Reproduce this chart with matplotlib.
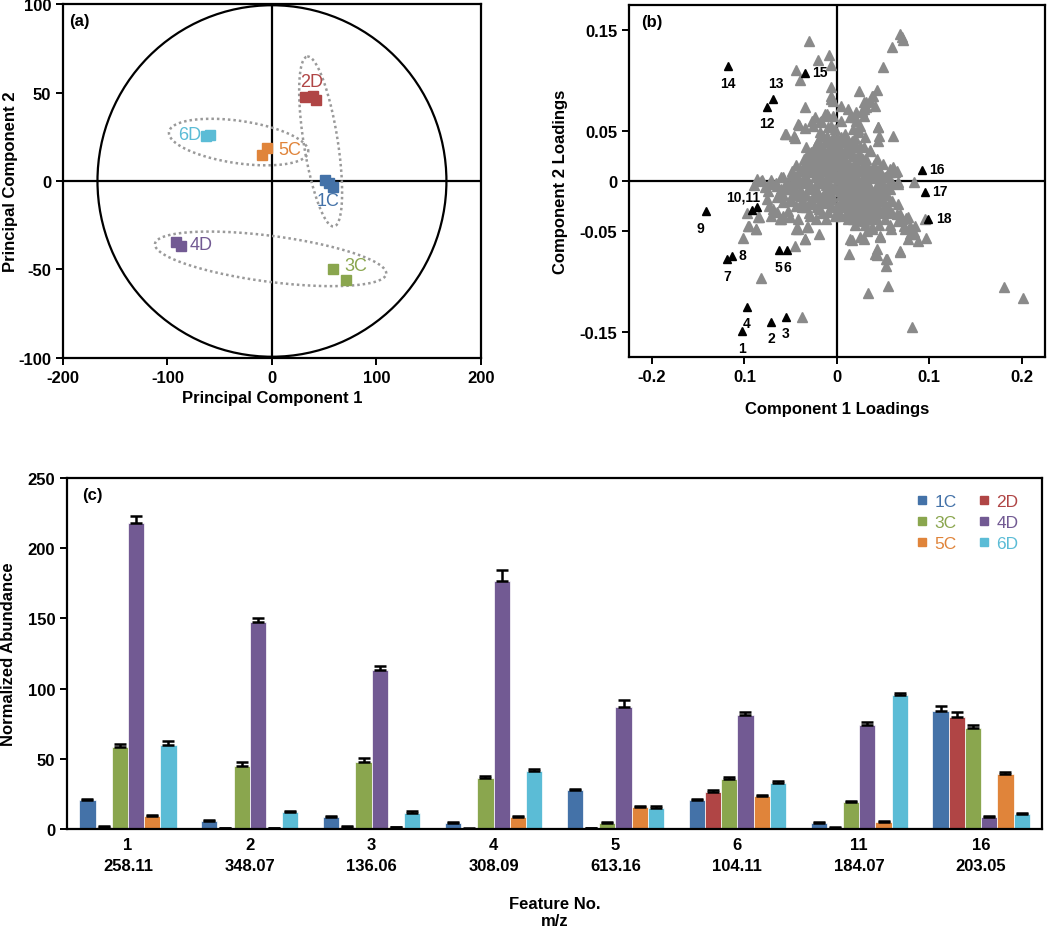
import numpy as np
import matplotlib
matplotlib.use("Agg")
import matplotlib.pyplot as plt
from matplotlib.patches import Ellipse
from matplotlib.lines import Line2D

plt.rcParams['font.family'] = ['Liberation Sans', 'DejaVu Sans']
plt.rcParams['font.weight'] = 'bold'
plt.rcParams['axes.unicode_minus'] = False

# ---------------- data ----------------
groups = ['1C', '2D', '3C', '4D', '5C', '6D']
colors = {'1C': '#4472A8', '2D': '#B04545', '3C': '#8AA64E',
          '4D': '#725A93', '5C': '#E0843A', '6D': '#5BBCD6'}

# (a) PCA scores
pca_x = {'1C': [51, 55, 58], '2D': [32, 39, 42], '3C': [58, 70.5],
         '4D': [-91.5, -87.5], '5C': [-5, -9.5], '6D': [-63.5, -59]}
pca_y = {'1C': [0.3, -1.3, -3.2], '2D': [47.5, 48, 46], '3C': [-50, -56],
         '4D': [-34.3, -36.5], '5C': [18.5, 14.5], '6D': [25.2, 26.2]}
label_x = {'1C': 54, '2D': 38, '3C': 80, '4D': -68, '5C': 17, '6D': -79}
label_y = {'1C': -11, '2D': 56, '3C': -47.5, '4D': -36, '5C': 18, '6D': 26}

# (b) loadings: labelled features (black)
feat_num = ['1', '2', '3', '4', '5', '6', '7', '8', '9', '10,11', '', '12', '13', '14', '15', '16', '17', '18']
feat_x = [-0.103, -0.071, -0.055, -0.0975, -0.063, -0.054, -0.119, -0.113, -0.142,
          -0.092, -0.0867, -0.076, -0.069, -0.118, -0.035, 0.092, 0.095, 0.099]
feat_y = [-0.149, -0.140, -0.135, -0.125, -0.069, -0.069, -0.078, -0.075, -0.030,
          -0.029, -0.026, 0.074, 0.082, 0.114, 0.107, 0.011, -0.011, -0.038]

# (b) loadings: other features (gray)
other_xy = [
    (-0.030, 0.139), (-0.009, 0.125), (-0.020, 0.120), (-0.006, 0.115), (-0.044, 0.110),
    (-0.040, 0.100), (-0.0065, 0.093), (-0.0065, 0.084), (-0.004, 0.080), (-0.035, 0.074),
    (-0.056, 0.047), (-0.046, 0.045), (-0.011, 0.067), (-0.017, 0.060), (-0.026, 0.055),
    (-0.042, 0.057), (0.068, 0.146), (0.071, 0.143), (0.072, 0.140), (0.060, 0.133),
    (0.050, 0.113), (0.024, 0.089), (0.043, 0.090), (0.038, 0.084), (0.032, 0.079),
    (0.029, 0.072), (0.045, 0.054), (0.061, 0.045), (0.046, 0.045), (0.005, 0.075),
    (0.012, 0.072), (0.020, 0.064), (0.023, 0.052),
    (-0.082, 0.0), (-0.073, -0.003), (-0.076, -0.018), (-0.097, -0.032), (-0.085, -0.036),
    (-0.095, -0.045), (-0.088, -0.048), (-0.102, -0.057), (-0.082, -0.096), (-0.060, -0.038),
    (-0.051, -0.036), (-0.042, -0.048), (-0.035, -0.058), (-0.031, -0.046), (-0.045, -0.065),
    (-0.038, -0.135), (-0.065, -0.031), (-0.073, -0.025),
    (0.013, -0.073), (0.016, -0.059), (0.034, -0.111), (0.055, -0.104), (0.053, -0.085),
    (0.054, -0.078), (0.041, -0.073), (0.047, -0.056), (0.059, -0.048), (0.068, -0.071),
    (0.074, -0.048), (0.077, -0.058), (0.083, -0.053), (0.088, -0.060), (0.096, -0.057),
    (0.095, -0.038), (0.085, -0.045), (0.081, -0.145), (0.181, -0.105), (0.202, -0.116),
    (0.075, -0.037), (0.068, -0.033), (0.066, -0.023), (0.063, 0.009), (0.066, -0.003),
    (0.057, 0.012), (0.029, -0.058), (0.038, -0.048), (0.025, -0.035), (0.005, -0.035),
    (-0.002, -0.035),
    (-0.0805, 0.001), (-0.071, 0.001), (-0.065, -0.005), (-0.074, -0.010), (-0.062, -0.011),
    (-0.055, -0.008), (-0.048, -0.003), (-0.042, 0.002), (-0.039, -0.015), (-0.051, -0.018),
    (-0.058, -0.021), (-0.069, -0.028), (-0.071, -0.035), (-0.062, -0.038), (-0.058, -0.035),
    (-0.053, -0.030), (-0.044, -0.025), (-0.042, -0.038), (-0.033, -0.026), (-0.026, -0.023),
    (-0.029, -0.035), (-0.032, -0.046), (-0.023, -0.038), (-0.019, -0.028), (-0.012, -0.021),
    (-0.010, -0.031), (-0.019, -0.053), (-0.044, -0.048), (-0.035, -0.058), (-0.084, -0.036),
    (-0.096, -0.045), (-0.087, -0.048),
    (-0.040, 0.012), (-0.033, 0.019), (-0.026, 0.025), (-0.019, 0.029), (-0.012, 0.022),
    (-0.005, 0.015), (-0.026, 0.009), (-0.019, 0.002), (-0.012, -0.004), (-0.005, -0.008),
    (-0.033, -0.001), (-0.015, -0.015), (-0.006, -0.018),
    (0.014, -0.058), (0.025, -0.056), (0.047, -0.055), (0.043, -0.068), (0.043, -0.074),
    (0.053, -0.078), (0.068, -0.070), (0.079, -0.053), (0.084, -0.051), (0.073, -0.045),
    (0.079, -0.045), (0.077, -0.036), (0.066, -0.040), (0.033, -0.050), (0.038, -0.046),
    (0.023, -0.039), (0.029, -0.040), (0.036, -0.038), (0.040, -0.035), (0.065, -0.033),
    (0.058, -0.031), (0.010, -0.033), (0.020, -0.033), (0.050, -0.030), (0.045, -0.026),
    (0.083, -0.001), (0.066, -0.001), (0.065, 0.010), (0.057, 0.009), (0.061, 0.014),
    (0.052, 0.004), (0.047, 0.002), (0.050, 0.017), (0.043, 0.022), (0.036, 0.030),
    (0.050, -0.011), (0.036, -0.015), (0.025, -0.022), (0.018, -0.028), (0.032, -0.025),
    (0.029, -0.008), (0.021, -0.001), (0.014, -0.011), (0.007, -0.018), (0.000, -0.025),
    (0.043, -0.004), (0.039, 0.012), (0.029, 0.018), (0.014, 0.015), (0.003, 0.012),
    (0.018, 0.025),
    (0.039, 0.084), (0.036, 0.080), (0.029, 0.079), (0.041, 0.075), (0.032, 0.074),
    (0.027, 0.070), (0.021, 0.069), (0.029, 0.065), (0.014, 0.064), (0.021, 0.060),
    (0.025, 0.055), (0.018, 0.052), (0.023, 0.049), (0.030, 0.044), (0.044, 0.054),
    (0.045, 0.040), (0.009, 0.047), (0.007, 0.039), (0.014, 0.037), (0.021, 0.035),
    (0.029, 0.034), (0.036, 0.031), (0.000, 0.044), (-0.006, 0.055), (-0.004, 0.065),
    (-0.006, 0.082), (0.003, 0.030), (0.010, 0.029),
    (-0.024, 0.064), (-0.027, 0.060), (-0.018, 0.059), (-0.013, 0.067), (-0.010, 0.065),
    (-0.041, 0.056), (-0.034, 0.053), (-0.055, 0.047), (-0.045, 0.043), (-0.010, 0.054),
    (-0.018, 0.049), (-0.011, 0.045), (-0.004, 0.044), (-0.033, 0.034), (-0.028, 0.029),
    (-0.018, 0.035), (-0.011, 0.039), (-0.015, 0.029), (-0.008, 0.030), (-0.002, 0.027),
    (-0.035, 0.005), (-0.030, 0.012), (-0.028, -0.005), (-0.025, 0.018), (-0.022, 0.008),
    (-0.020, -0.012), (-0.018, 0.015), (-0.016, 0.002), (-0.014, 0.022), (-0.012, -0.009),
    (-0.010, 0.010), (-0.009, 0.030), (-0.008, -0.002), (-0.006, 0.020), (-0.005, -0.015),
    (-0.004, 0.006), (-0.003, 0.035), (-0.002, -0.006), (0.000, 0.016), (0.001, 0.002),
    (0.002, 0.025), (0.003, -0.010), (0.004, 0.009), (0.005, -0.020), (0.006, 0.000),
    (0.007, 0.020), (0.008, -0.006), (0.009, 0.012), (0.010, -0.014), (0.011, 0.004),
    (0.012, -0.022), (0.013, 0.008), (0.014, -0.004), (0.015, 0.030), (0.016, -0.016),
    (0.017, 0.002), (0.018, -0.010), (0.019, 0.017), (0.020, -0.020), (0.021, 0.005),
    (0.022, -0.006), (0.023, -0.028), (0.024, 0.010), (0.025, -0.014), (0.026, 0.000),
    (0.027, -0.022), (0.028, 0.022), (0.029, -0.004), (0.030, -0.018), (0.031, 0.007),
    (0.032, -0.010), (0.033, -0.030), (0.034, 0.014), (0.035, -0.021), (0.036, 0.003),
    (0.038, -0.012), (0.040, 0.008), (0.042, -0.020), (0.044, -0.006), (0.046, 0.012),
    (0.048, -0.016), (0.052, -0.024), (0.055, -0.006), (-0.045, -0.010), (-0.040, 0.000),
    (-0.038, -0.020), (-0.050, 0.006), (-0.055, -0.002), (-0.060, 0.004), (-0.065, -0.016),
    (-0.032, 0.026), (-0.022, 0.038), (-0.015, 0.045), (-0.005, 0.040), (0.005, 0.044),
    (0.012, 0.040), (0.020, 0.043), (0.025, 0.035), (-0.026, -0.016), (-0.012, -0.022),
    (0.000, -0.030), (0.008, -0.026), (0.015, -0.030), (0.040, -0.028), (0.060, -0.020),
    (0.058, 0.000), (-0.002, 0.052), (0.004, 0.060), (-0.020, 0.030), (-0.008, 0.012),
    (-0.020, 0.040), (-0.012, 0.040), (-0.001, 0.040), (0.008, 0.040), (0.016, 0.040),
    (-0.024, 0.034), (-0.016, 0.034), (-0.007, 0.034), (0.002, 0.034), (0.011, 0.034), (0.019, 0.034),
    (-0.030, 0.028), (-0.022, 0.028), (-0.012, 0.028), (0.007, 0.028), (0.013, 0.028), (0.024, 0.028),
    (-0.036, 0.022), (-0.027, 0.022), (-0.018, 0.022), (-0.009, 0.022), (0.000, 0.022),
    (0.009, 0.022), (0.023, 0.022), (0.032, 0.022),
    (-0.044, 0.016), (-0.034, 0.016), (-0.024, 0.016), (-0.013, 0.016), (-0.002, 0.016),
    (0.006, 0.016), (0.022, 0.016), (0.031, 0.016), (0.040, 0.016),
    (-0.048, 0.010), (-0.038, 0.010), (-0.030, 0.010), (-0.016, 0.010), (-0.003, 0.010),
    (0.018, 0.010), (0.027, 0.010), (0.035, 0.010), (0.045, 0.010),
    (-0.058, 0.004), (-0.045, 0.004), (-0.033, 0.004), (-0.024, 0.004), (-0.011, 0.004),
    (-0.001, 0.004), (0.016, 0.004), (0.030, 0.004), (0.040, 0.004), (0.050, 0.004),
    (-0.066, -0.002), (-0.052, -0.002), (-0.043, -0.002), (-0.036, -0.002), (-0.022, -0.002),
    (-0.014, -0.002), (0.003, -0.002), (0.010, -0.002), (0.019, -0.002), (0.034, -0.002),
    (0.049, -0.002), (0.060, -0.002),
    (-0.060, -0.008), (-0.050, -0.008), (-0.040, -0.008), (-0.031, -0.008), (-0.023, -0.008),
    (0.001, -0.008), (0.012, -0.008), (0.022, -0.008), (0.036, -0.008), (0.046, -0.008), (0.057, -0.008),
    (-0.058, -0.014), (-0.046, -0.014), (-0.033, -0.014), (-0.022, -0.014), (-0.009, -0.014),
    (0.004, -0.014), (0.020, -0.014), (0.028, -0.014), (0.042, -0.014), (0.054, -0.014),
    (-0.048, -0.020), (-0.038, -0.020), (-0.029, -0.020), (-0.017, -0.020), (0.009, -0.020),
    (0.016, -0.020), (0.026, -0.020), (0.037, -0.020), (0.047, -0.020), (0.058, -0.020),
    (-0.038, -0.026), (-0.022, -0.026), (-0.005, -0.026), (0.005, -0.026), (0.013, -0.026),
    (0.021, -0.026), (0.030, -0.026), (0.038, -0.026), (0.055, -0.026),
    (-0.030, -0.032), (-0.016, -0.032), (0.002, -0.032), (0.016, -0.032), (0.027, -0.032),
    (0.035, -0.032), (0.046, -0.032), (0.060, -0.032),
    (-0.012, -0.038), (0.012, -0.038), (0.018, -0.038), (0.031, -0.038), (0.043, -0.038),
    (0.052, -0.038), (0.070, -0.038),
    (0.020, -0.044), (0.030, -0.044), (0.046, -0.044), (0.058, -0.044),
    (-0.090, -0.004), (-0.078, -0.006), (-0.086, 0.002),
]

# (c) bar chart
feature_no = ['1', '2', '3', '4', '5', '6', '11', '16']
mz = ['258.11', '348.07', '136.06', '308.09', '613.16', '104.11', '184.07', '203.05']
abund = {
    '1C': [20.5, 5.5, 8.5, 4.0, 27.5, 20.5, 4.5, 84.0],
    '2D': [1.5, 0.5, 1.5, 0.3, 0.5, 26.5, 1.0, 80.0],
    '3C': [58.5, 45.0, 47.5, 36.0, 4.2, 35.5, 19.0, 72.0],
    '4D': [217.5, 147.0, 113.5, 176.5, 86.5, 81.0, 74.0, 8.5],
    '5C': [9.0, 0.6, 1.2, 8.2, 15.7, 23.5, 5.0, 39.0],
    '6D': [59.5, 12.0, 11.5, 41.2, 15.2, 33.0, 95.5, 10.5],
}
abund_err = {
    '1C': [1.0, 0.8, 0.8, 1.0, 1.2, 1.0, 0.8, 3.8],
    '2D': [0.8, 0.3, 0.5, 0.2, 0.3, 1.4, 0.3, 3.4],
    '3C': [2.2, 3.0, 2.8, 1.5, 0.8, 1.3, 1.2, 2.2],
    '4D': [5.0, 3.5, 2.5, 8.0, 5.0, 2.6, 2.0, 0.8],
    '5C': [1.0, 0.3, 0.4, 0.8, 0.8, 1.0, 0.8, 1.6],
    '6D': [3.0, 1.0, 1.0, 1.8, 0.8, 1.0, 1.4, 1.2],
}

# ---------------- figure ----------------
fig = plt.figure(figsize=(10.5, 9.29), dpi=100)
FS = 12

def style_axes(ax):
    for s in ax.spines.values():
        s.set_linewidth(1.6)
        s.set_color('black')
    ax.tick_params(direction='out', length=5, width=1.4, labelsize=FS)
    for lab in ax.get_xticklabels() + ax.get_yticklabels():
        lab.set_fontweight('bold')

# ---- (a) ----
axa = fig.add_axes([0.060, 0.6136, 0.398, 0.381])
axa.set_xlim(-200, 200)
axa.set_ylim(-100, 100)
axa.axhline(0, color='black', lw=1.6, zorder=1)
axa.axvline(0, color='black', lw=1.6, zorder=1)
axa.add_patch(Ellipse((0, 0), 2 * 167, 2 * 99.3, fill=False, ec='black', lw=1.6, zorder=1))

# dotted grouping ellipses: centre, half major axis vector, half minor axis vector
ell_c = [(46.6, 22.3), (-31.9, 22.0), (-1.3, -44.0)]
ell_u = [(-12.8, 48.0), (66.7, -5.4), (110.7, -8.3)]
ell_v = [(16.1, 1.5), (1.2, 12.0), (1.2, 13.0)]
t = np.linspace(0, 2 * np.pi, 300)
for c, u, v in zip(ell_c, ell_u, ell_v):
    ex = c[0] + u[0] * np.cos(t) + v[0] * np.sin(t)
    ey = c[1] + u[1] * np.cos(t) + v[1] * np.sin(t)
    axa.plot(ex, ey, ls=(0, (1, 1.2)), color='#9a9a9a', lw=1.8, zorder=2)

for g in groups:
    axa.plot(pca_x[g], pca_y[g], 's', color=colors[g], ms=6.5, mec=colors[g], zorder=3, ls='')
    axa.text(label_x[g], label_y[g], g, color=colors[g], fontsize=13, fontweight='normal',
             ha='center', va='center', zorder=4)

axa.set_xticks([-200, -100, 0, 100, 200])
axa.set_yticks([-100, -50, 0, 50, 100])
axa.set_xlabel('Principal Component 1', fontsize=FS, fontweight='bold', labelpad=4)
axa.set_ylabel('Principal Component 2', fontsize=FS, fontweight='bold', labelpad=0)
axa.text(0.015, 0.975, '(a)', transform=axa.transAxes, fontsize=FS, fontweight='bold',
         ha='left', va='top')
style_axes(axa)

# ---- (b) ----
axb = fig.add_axes([0.599, 0.6146, 0.396, 0.379])
axb.set_xlim(-0.225, 0.225)
axb.set_ylim(-0.175, 0.175)
axb.axhline(0, color='black', lw=1.6, zorder=1)
axb.axvline(0, color='black', lw=1.6, zorder=1)
ox = [p[0] for p in other_xy]
oy = [p[1] for p in other_xy]
axb.plot(ox, oy, '^', color='#8a8a8a', ms=6.5, mec='#8a8a8a', ls='', zorder=2)
axb.plot(feat_x, feat_y, '^', color='black', ms=5.5, ls='', zorder=3)

# label offsets in points
lab_off = {'1': (0, -12), '2': (0, -12), '3': (0, -12), '4': (0, -12), '5': (0, -12),
           '6': (0, -12), '7': (0, -12), '8': (7, 1), '9': (-4, -12), '10,11': (-6, 10),
           '12': (0, -12), '13': (2, 11), '14': (0, -12), '15': (11, 1), '16': (11, 1),
           '17': (11, 1), '18': (11, 1)}
for n, x, y in zip(feat_num, feat_x, feat_y):
    if not n:
        continue
    dx, dy = lab_off[n]
    axb.annotate(n, (x, y), xytext=(dx, dy), textcoords='offset points', fontsize=10,
                 fontweight='bold', ha='center', va='center', zorder=4)

axb.set_xticks([-0.2, -0.1, 0, 0.1, 0.2])
axb.set_xticklabels(['-0.2', '0.1', '0', '0.1', '0.2'])
axb.set_yticks([-0.15, -0.05, 0, 0.05, 0.15])
axb.set_yticklabels(['-0.15', '-0.05', '0', '0.05', '0.15'])
axb.set_xlabel('Component 1 Loadings', fontsize=FS, fontweight='bold', labelpad=12)
axb.set_ylabel('Component 2 Loadings', fontsize=FS, fontweight='bold', labelpad=8)
axb.text(0.03, 0.975, '(b)', transform=axb.transAxes, fontsize=FS, fontweight='bold',
         ha='left', va='top')
style_axes(axb)

# ---- (c) ----
axc = fig.add_axes([0.0638, 0.1066, 0.9286, 0.378])
xpos = np.arange(len(feature_no))
bw = 0.133
for i, g in enumerate(groups):
    xs = xpos + (i - 2.5) * bw
    errs = [np.zeros(len(feature_no)), abund_err[g]]
    axc.bar(xs, abund[g], width=bw, color=colors[g], edgecolor='white', linewidth=0.5,
            yerr=errs, error_kw=dict(ecolor='black', elinewidth=1.8, capsize=4.5, capthick=1.8),
            zorder=2)
axc.set_xlim(-0.5, len(feature_no) - 0.5)
axc.set_ylim(0, 250)
axc.set_yticks([0, 50, 100, 150, 200, 250])
axc.set_xticks(xpos)
axc.set_xticklabels([f'{a}\n{b}' for a, b in zip(feature_no, mz)], fontsize=FS,
                    fontweight='bold', linespacing=1.5)
axc.set_xlabel('Feature No.\nm/z', fontsize=FS, fontweight='bold', labelpad=16, linespacing=1.2)
axc.set_ylabel('Normalized Abundance', fontsize=FS, fontweight='bold', labelpad=8)
axc.text(0.016, 0.975, '(c)', transform=axc.transAxes, fontsize=FS, fontweight='bold',
         ha='left', va='top')
style_axes(axc)
axc.tick_params(axis='x', length=0, pad=6)

order = ['1C', '3C', '5C', '2D', '4D', '6D']
handles = [Line2D([], [], marker='s', ls='', color=colors[g], ms=6) for g in order]
leg = axc.legend(handles, order, ncol=2, loc='upper right', bbox_to_anchor=(0.992, 1.0),
                 frameon=False, fontsize=12.5, handlelength=0.6, handletextpad=0.4,
                 columnspacing=1.3, labelspacing=0.35)
for txt, g in zip(leg.get_texts(), order):
    txt.set_color(colors[g])
    txt.set_fontweight('normal')

fig.savefig('out.png', dpi=100)
